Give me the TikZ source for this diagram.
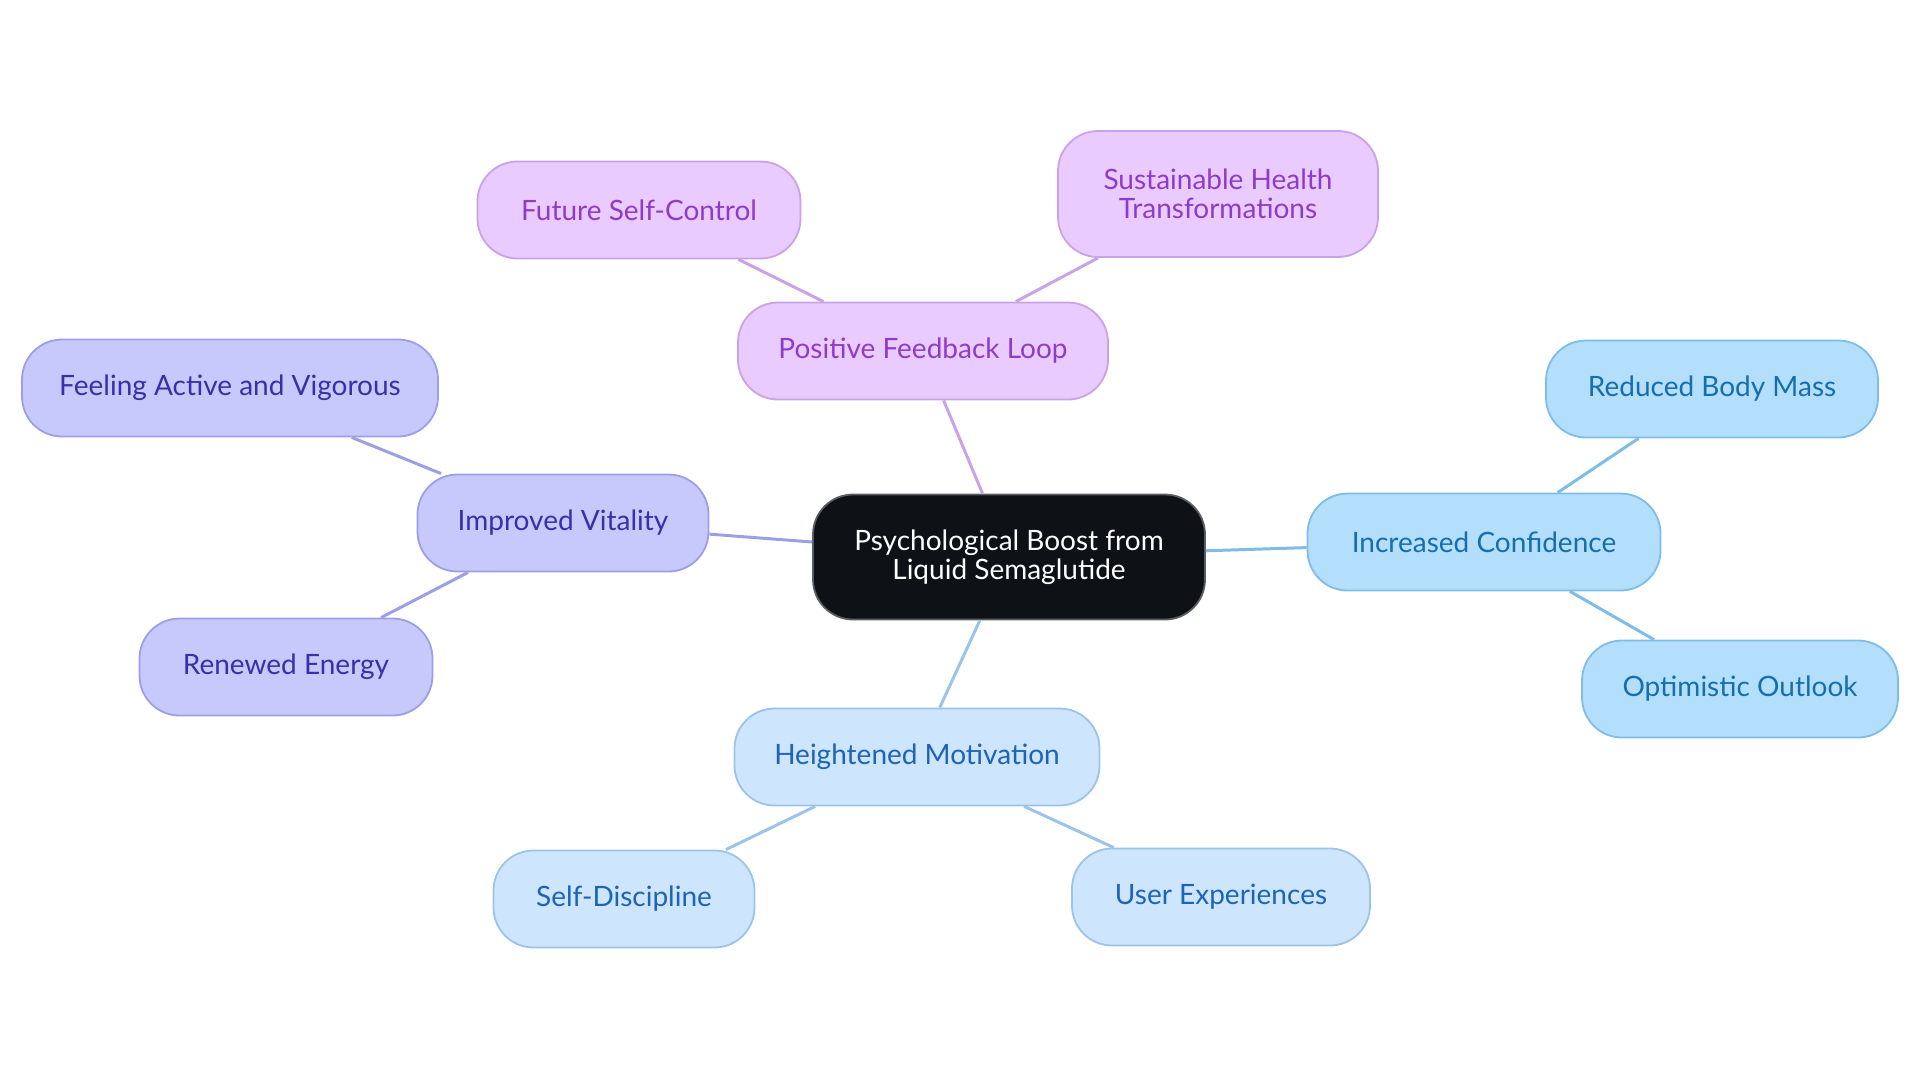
\documentclass[tikz,border=0pt]{standalone}
\usepackage{fontspec}
\setmainfont{Lato}
\definecolor{rootfill}{HTML}{0E1217}
\definecolor{rootdraw}{HTML}{5A5E63}
\definecolor{fbfill}{HTML}{E9CBFF}
\definecolor{fbdraw}{HTML}{C9A2E8}
\definecolor{fbtext}{HTML}{8E3BC9}
\definecolor{vitfill}{HTML}{C7C9FD}
\definecolor{vitdraw}{HTML}{9D9FE5}
\definecolor{vittext}{HTML}{3730A8}
\definecolor{conffill}{HTML}{B3DFFD}
\definecolor{confdraw}{HTML}{7FBCE8}
\definecolor{conftext}{HTML}{146EAF}
\definecolor{motfill}{HTML}{CDE5FD}
\definecolor{motdraw}{HTML}{9CC3EA}
\definecolor{mottext}{HTML}{1D63B8}
\begin{document}
\begin{tikzpicture}[
  x=0.5pt,y=-0.5pt,
  every node/.style={draw,rounded corners=20pt,minimum height=48.5pt,inner sep=0pt,
    align=center,line width=0.9pt,font=\fontsize{14}{14.5}\selectfont},
  root/.style={fill=rootfill,draw=rootdraw,text=white,minimum height=62.5pt},
  fb/.style={fill=fbfill,draw=fbdraw,text=fbtext},
  vit/.style={fill=vitfill,draw=vitdraw,text=vittext},
  conf/.style={fill=conffill,draw=confdraw,text=conftext},
  mot/.style={fill=motfill,draw=motdraw,text=mottext},
  link/.style={line width=1.5pt},
  ]
  \useasboundingbox (0,0) rectangle (1920,1083);
  % centre
  \node(root)[root,minimum width=196pt] at (1009,557)
    {Psychological Boost from\\Liquid Semaglutide};
  % positive feedback loop
  \node(feedback)[fb,minimum width=185pt] at (923,351) {Positive Feedback Loop};
  \node(selfcontrol)[fb,minimum width=161.5pt] at (639,210) {Future Self-Control};
  \node(sustainable)[fb,minimum width=160pt,minimum height=63pt] at (1218,194)
    {Sustainable Health\\Transformations};
  % improved vitality
  \node(vitality)[vit,minimum width=145.5pt] at (563,523) {Improved Vitality};
  \node(active)[vit,minimum width=208pt] at (230,388) {Feeling Active and Vigorous};
  \node(energy)[vit,minimum width=146.5pt] at (286,667) {Renewed Energy};
  % increased confidence
  \node(confidence)[conf,minimum width=176.5pt] at (1484,542) {Increased Confidence};
  \node(bodymass)[conf,minimum width=166pt] at (1712,389) {Reduced Body Mass};
  \node(outlook)[conf,minimum width=158pt] at (1740,689) {Optimistic Outlook};
  % heightened motivation
  \node(motivation)[mot,minimum width=182.5pt] at (917,757) {Heightened Motivation};
  \node(discipline)[mot,minimum width=130.5pt] at (624,899) {Self-Discipline};
  \node(experiences)[mot,minimum width=149pt] at (1221,897) {User Experiences};

  \draw[link,fbdraw] (root)--(feedback);
  \draw[link,fbdraw] (feedback)--(selfcontrol);
  \draw[link,fbdraw] (feedback)--(sustainable);
  \draw[link,vitdraw] (root)--(vitality);
  \draw[link,vitdraw] (vitality)--(active);
  \draw[link,vitdraw] (vitality)--(energy);
  \draw[link,confdraw] (root)--(confidence);
  \draw[link,confdraw] (confidence)--(bodymass);
  \draw[link,confdraw] (confidence)--(outlook);
  \draw[link,motdraw] (root)--(motivation);
  \draw[link,motdraw] (motivation)--(discipline);
  \draw[link,motdraw] (motivation)--(experiences);
\end{tikzpicture}
\end{document}
